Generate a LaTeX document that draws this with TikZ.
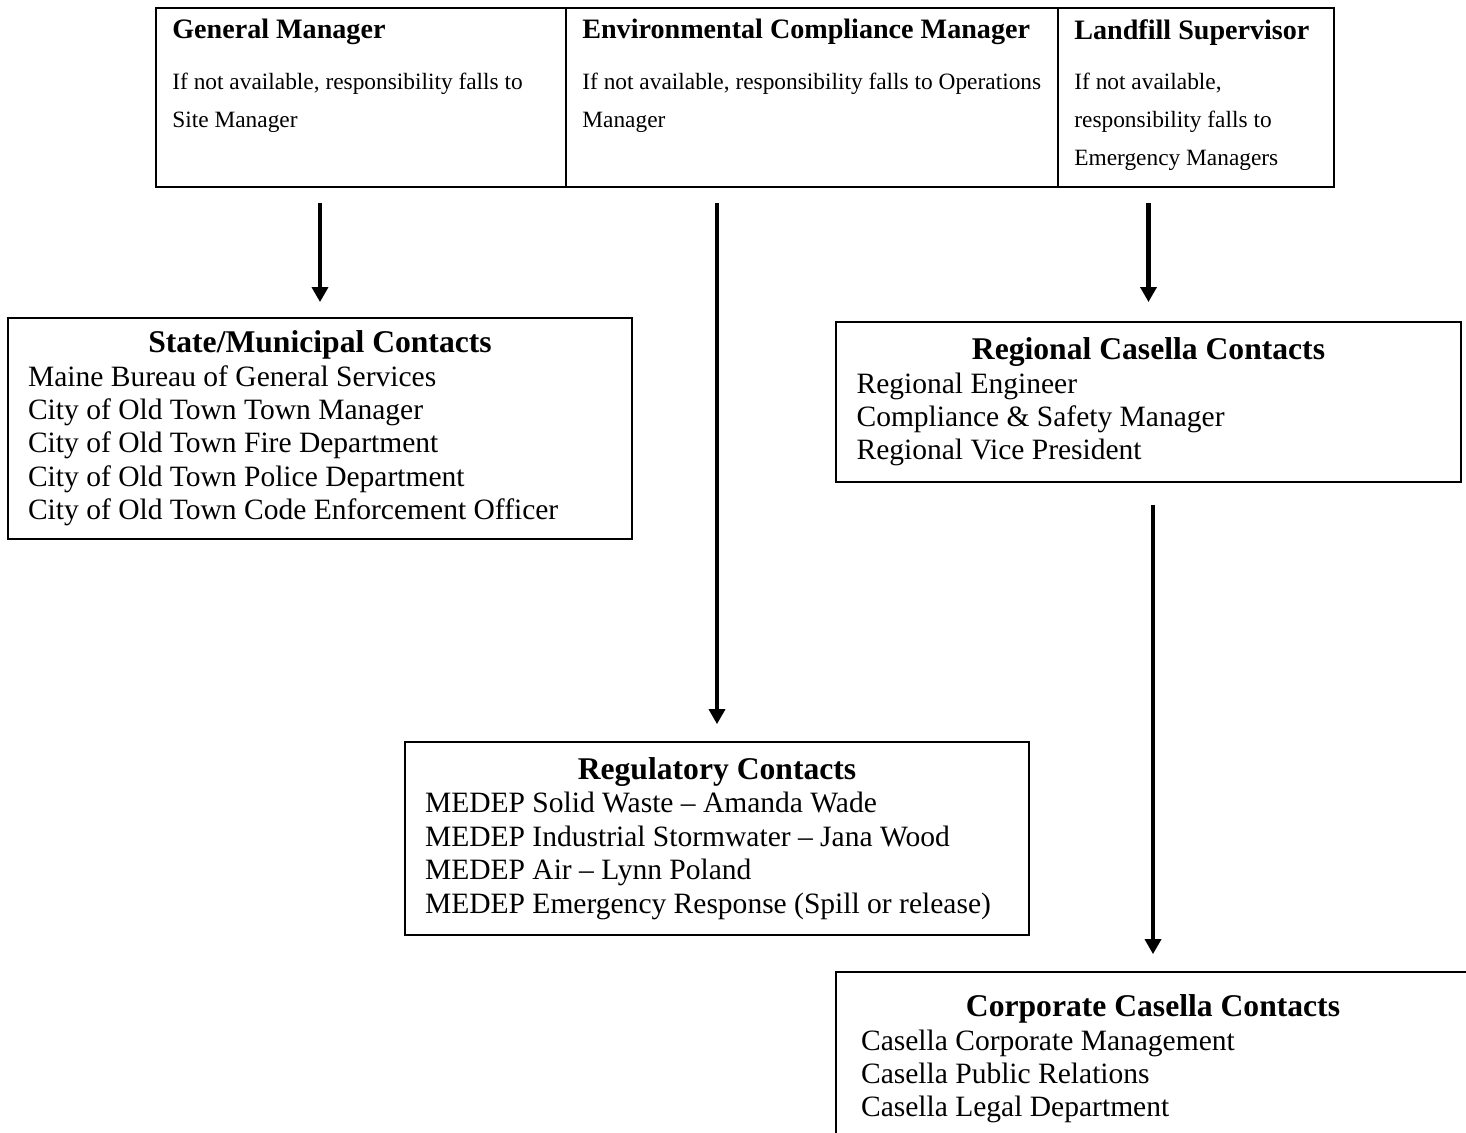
\documentclass[tikz,border=0pt]{standalone}
\usepackage{fontspec}
\setmainfont{Liberation Serif}
\usetikzlibrary{arrows.meta, positioning}
\newcommand{\pxu}{0.02cm}
\newcommand{\hdfont}{\fontsize{16}{19}\selectfont\bfseries}
\newcommand{\ttlfont}{\fontsize{18}{19}\selectfont\bfseries}
\tikzset{
  cell/.style={draw, line width=1.1pt, minimum height=179*\pxu, anchor=north west,
    inner sep=0pt, outer sep=0pt},
  celltext/.style={anchor=north west, inner xsep=16*\pxu, inner ysep=11*\pxu, align=flush left,
    font=\fontsize{13.3}{21.5}\selectfont},
  contact/.style={draw, line width=1.1pt, text width=11.68cm, align=flush left, inner xsep=20*\pxu,
    font=\fontsize{16.8}{19}\selectfont},
  arr/.style={-{Triangle[length=8.5pt, width=9pt]}, line width=2.6pt},
}

\begin{document}
\begin{tikzpicture}[x=0.02cm, y=-0.02cm]
  \useasboundingbox (0,0) rectangle (1466,1132);

  % top table
  \node[cell, minimum width=410*\pxu] (gm) at (156,8) {};
  \node[cell, minimum width=492*\pxu] (ecm) at (gm.north east) {};
  \node[cell, minimum width=276*\pxu] (ls) at (ecm.north east) {};
  \node[celltext] (gmtxt) at (gm.north west)
    {{\hdfont General Manager}\\[7.4pt]
     If not available, responsibility falls to\\ Site Manager};
  \node[celltext] (ecmtxt) at (ecm.north west)
    {{\hdfont Environmental Compliance Manager}\\[7.4pt]
     If not available, responsibility falls to Operations\\ Manager};
  \node[celltext] (lstxt) at (ls.north west)
    {{\hdfont Landfill Supervisor}\\[7.4pt]
     If not available,\\ responsibility falls to\\ Emergency Managers};

  % contact boxes
  \node[contact, minimum width=624*\pxu, minimum height=221*\pxu] (state) at (320,428.5)
    {\hspace*{\fill}{\ttlfont State/Municipal Contacts}\hspace*{\fill}\null\\
     Maine Bureau of General Services\\
     City of Old Town Town Manager\\
     City of Old Town Fire Department\\
     City of Old Town Police Department\\
     City of Old Town Code Enforcement Officer};
  \node[contact, minimum width=625*\pxu, minimum height=160*\pxu] (regional) at (1148.5,402)
    {\hspace*{\fill}{\ttlfont Regional Casella Contacts}\hspace*{\fill}\null\\
     Regional Engineer\\
     Compliance \& Safety Manager\\
     Regional Vice President};
  \node[contact, minimum width=624*\pxu, minimum height=193*\pxu] (reg) at (717,838.5)
    {\hspace*{\fill}{\ttlfont Regulatory Contacts}\hspace*{\fill}\null\\
     MEDEP Solid Waste – Amanda Wade\\
     MEDEP Industrial Stormwater – Jana Wood\\
     MEDEP Air – Lynn Poland\\
     MEDEP Emergency Response (Spill or release)};
  \node[contact, minimum width=634*\pxu, minimum height=174*\pxu] (corp) at (1153,1059)
    {\hspace*{\fill}{\ttlfont Corporate Casella Contacts}\hspace*{\fill}\null\\
     Casella Corporate Management\\
     Casella Public Relations\\
     Casella Legal Department};

  % arrows
  \draw[arr, shorten <=9.1pt, shorten >=8.5pt] (state.north |- gm.south) -- (state.north);
  \draw[arr, shorten <=9.1pt, shorten >=9.6pt] (reg.north |- ecm.south) -- (reg.north);
  \draw[arr, shorten <=9.1pt, shorten >=10.8pt] (regional.north |- ls.south) -- (regional.north);
  \draw[arr, shorten <=12.5pt, shorten >=9.6pt] (regional.south -| corp.north) -- (corp.north);
\end{tikzpicture}
\end{document}
